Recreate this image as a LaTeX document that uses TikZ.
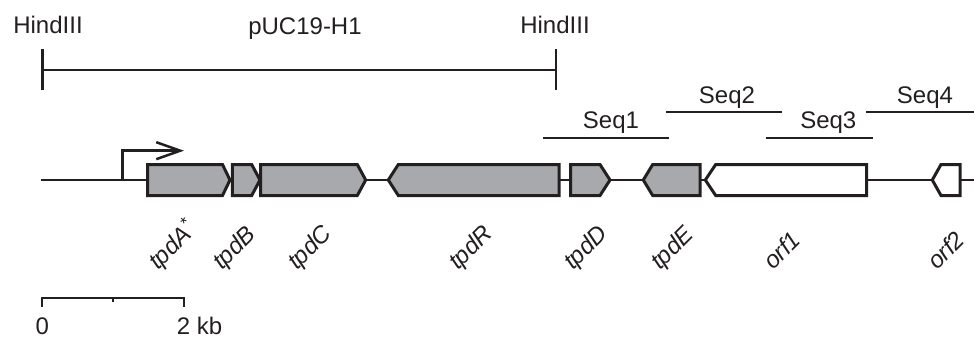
\documentclass[tikz,border=0pt]{standalone}
\usepackage{fontspec}
\setmainfont{Liberation Sans}
\usetikzlibrary{arrows.meta}
\definecolor{ink}{HTML}{231F20}
\definecolor{genegray}{HTML}{A7A9AC}
\begin{document}
\begin{tikzpicture}[x=1pt,y=-1pt,
  lbl/.style={font=\fontsize{24}{28}\selectfont, text=ink, inner sep=0pt},
  genelabel/.style={font=\fontsize{24}{28}\selectfont\itshape, text=ink, inner sep=0pt, rotate=45, anchor=base west},
  genebox/.style={draw=ink, line width=3pt, fill=genegray, line join=miter},
  orfbox/.style={genebox, fill=white},
  dnaline/.style={draw=ink, line width=2pt},
  barline/.style={draw=ink, line width=2.5pt},
  seqline/.style={draw=ink, line width=2.2pt},
  scaleline/.style={draw=ink, line width=2pt},
]
\useasboundingbox (0,0) rectangle (974,337);

% restriction fragment
\node[lbl, anchor=base] (h1) at (48,34) {HindIII};
\node[lbl, anchor=base] (puc) at (305,34.5) {pUC19-H1};
\node[lbl, anchor=base] (h2) at (555,34) {HindIII};
\coordinate (hl) at (42.7,70);
\coordinate (hr) at (556,70);
\draw[barline] (42.7,49.3) -- (42.7,90);
\draw[barline] (556,49.3) -- (556,90);
\draw[barline] (hl) -- (hr);

% sequenced regions
\node[lbl, anchor=base] (s1) at (611,128) {Seq1};
\node[lbl, anchor=base] (s2) at (727,103.3) {Seq2};
\node[lbl, anchor=base] (s3) at (828.3,128) {Seq3};
\node[lbl, anchor=base] (s4) at (925,103.3) {Seq4};
\coordinate (s1a) at (543.3,138); \coordinate (s1b) at (668.7,138);
\coordinate (s2a) at (666,112);   \coordinate (s2b) at (782,112);
\coordinate (s3a) at (766,138);   \coordinate (s3b) at (873.3,138);
\coordinate (s4a) at (866,112);   \coordinate (s4b) at (974,112);
\draw[seqline] (s1a) -- (s1b);
\draw[seqline] (s2a) -- (s2b);
\draw[seqline] (s3a) -- (s3b);
\draw[seqline] (s4a) -- (s4b);

% DNA line
\coordinate (dnaL) at (40.7,180);
\coordinate (dnaR) at (975,180);
\draw[dnaline] (dnaL) -- (dnaR);

% promoter
\coordinate (pr0) at (122.7,180);
\coordinate (pr1) at (122.7,150.7);
\coordinate (pr2) at (184,150.7);
\draw[draw=ink, line width=2.5pt, -{Straight Barb[length=24pt,width=17pt,line width=2.5pt]}] (pr0) -- (pr1) -- (pr2);

% genes (y centre 180, half height 15.5)
\draw[genebox] (147.7,164.5) -- (222.5,164.5) -- (230,180) -- (222.5,195.5) -- (147.7,195.5) -- cycle; % tpdA
\draw[genebox] (232.3,164.5) -- (251.7,164.5) -- (260,180) -- (251.7,195.5) -- (232.3,195.5) -- cycle; % tpdB
\draw[genebox] (260.5,164.5) -- (357.3,164.5) -- (365.7,180) -- (357.3,195.5) -- (260.5,195.5) -- cycle; % tpdC
\draw[genebox] (559,164.5) -- (398.3,164.5) -- (388.3,180) -- (398.3,195.5) -- (559,195.5) -- cycle; % tpdR
\draw[genebox] (570.7,164.5) -- (600,164.5) -- (610,180) -- (600,195.5) -- (570.7,195.5) -- cycle; % tpdD
\draw[genebox] (700,164.5) -- (652.7,164.5) -- (643.3,180) -- (652.7,195.5) -- (700,195.5) -- cycle; % tpdE
\draw[orfbox] (866.7,164.5) -- (715.7,164.5) -- (705.3,180) -- (715.7,195.5) -- (866.7,195.5) -- cycle; % orf1
\draw[orfbox] (960,164.5) -- (941,164.5) -- (932.3,180) -- (941,195.5) -- (960,195.5) -- cycle; % orf2

% gene labels
\node[genelabel] (lA) at (158,271) {tpdA\textsuperscript{*}};
\node[genelabel] (lB) at (222,271) {tpdB};
\node[genelabel] (lC) at (297,271) {tpdC};
\node[genelabel] (lR) at (458,271) {tpdR};
\node[genelabel] (lD) at (573,271) {tpdD};
\node[genelabel] (lE) at (660,271) {tpdE};
\node[genelabel] (l1) at (773,271) {orf1};
\node[genelabel] (l2) at (937,271) {orf2};

% scale bar
\coordinate (sb0) at (42.3,297.7);
\coordinate (sb1) at (113.3,297.7);
\coordinate (sb2) at (184.3,297.7);
\draw[scaleline] (42.3,306.7) -- (sb0) -- (sb2) -- (184.3,306.7);
\draw[scaleline] (sb1) -- (113.3,302);
\node[lbl, anchor=base] (z0) at (42.3,334.5) {0};
\node[lbl, anchor=base west] (z2) at (176.7,334.5) {2 kb};
\end{tikzpicture}
\end{document}
